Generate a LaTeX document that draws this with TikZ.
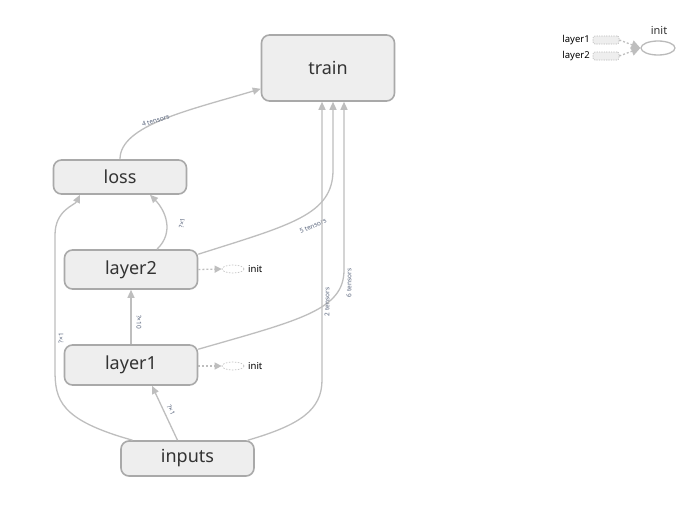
\documentclass[tikz,border=0pt]{standalone}
\usepackage{fontspec}
\setmainfont{Noto Sans}
\usetikzlibrary{arrows.meta,shapes.geometric}
\definecolor{nfill}{HTML}{EEEEEE}
\definecolor{nborder}{HTML}{A9A9A9}
\definecolor{edgec}{HTML}{BEBEBE}
\definecolor{txt}{HTML}{333333}
\definecolor{lbl}{HTML}{56627A}
\begin{document}
\begin{tikzpicture}[x=1pt,y=-1pt,
 op/.style={draw=nborder, fill=nfill, line width=1.6pt, rounded corners=8pt, minimum width=133pt, inner sep=0pt, font=\fontsize{18}{18}\selectfont, text=txt},
 flow/.style={draw=edgec, line width=1.3pt, -{Triangle[length=8pt,width=7pt]}},
 elabel/.style={font=\fontsize{6.5}{7}\selectfont, text=lbl, inner sep=0pt},
 dflow/.style={draw=edgec, line width=1.3pt, dash pattern=on 2pt off 2pt, -{Triangle[length=7pt,width=7pt]}},
 ini/.style={ellipse, draw=nborder!70, dash pattern=on 1.5pt off 1.5pt, minimum width=22pt, minimum height=8pt, inner sep=0pt, line width=0.7pt},
 small/.style={font=\fontsize{9.5}{10}\selectfont, text=black, inner sep=0pt},
 srect/.style={draw=nborder!80, fill=nfill, dash pattern=on 1.2pt off 1.2pt, rounded corners=2pt, minimum width=26pt, minimum height=8pt, inner sep=0pt, line width=0.6pt},
]
\useasboundingbox (0,0) rectangle (693,504);
\fill[white] (0,0) rectangle (693,504);

% nodes
\node[op, minimum height=66pt] (train) at (328,68) {train};
\node[op, minimum height=34pt] (loss) at (120,177) {loss};
\node[op, minimum height=39pt] (layer2) at (131,269.5) {layer2};
\node[op, minimum height=40pt] (layer1) at (131,365) {layer1};
\node[op, minimum height=35pt] (inputs) at (187.5,458.5) {inputs};

% init nodes beside layers
\node[ini] (init2) at (233,269) {};
\node[small, anchor=west] (init2l) at (248,269) {init};
\node[ini] (init1) at (233,366) {};
\node[small, anchor=west] (init1l) at (248,366) {init};
\draw[dflow] (layer2.east) -- (init2.west);
\draw[dflow] ([yshift=-1pt]layer1.east) -- (init1.west);

% legend top right
\node[ellipse, draw=nborder!80, line width=1.3pt, minimum width=34pt, minimum height=14pt, inner sep=0pt] (initbig) at (658,48) {};
\node[small, font=\fontsize{11}{12}\selectfont, text=txt] (initbigl) at (659,30) {init};
\node[srect] (r1) at (606,40) {};
\node[srect] (r2) at (606,56) {};
\node[small, anchor=east] (l1) at (590,40) {layer1};
\node[small, anchor=east] (l2) at (590,56) {layer2};
\draw[dflow, -{Triangle[length=9pt,width=9pt]}] (r1.east) -- (initbig.west);
\draw[dflow, -{Triangle[length=9pt,width=9pt]}] (r2.east) -- (initbig.west);

% edges
\draw[flow] (loss.north) .. controls (120,125) and (190,110) .. ([yshift=13pt]train.south west)
  node[elabel, pos=0.45, above, rotate=17, yshift=-1pt] (lab4) {4 tensors};

\draw[flow] ([xshift=26pt]layer2.north) .. controls (175,232) and (165,210) .. ([xshift=30pt]loss.south);
\node[elabel, rotate=80] (lab21) at (182,223) {?×1};

\draw[flow] ([yshift=-5pt]layer2.north east) .. controls (290,225) and (333,215) .. (333,170) -- ([xshift=5pt]train.south);
\node[elabel, rotate=23] (lab5) at (313,226) {5 tensors};

\draw[flow] (layer1.north) -- (layer2.south);
\node[elabel, rotate=-90] (lab10) at (139,322) {?×10};

\draw[flow] ([yshift=-5pt]layer1.north east) .. controls (300,320) and (344,310) .. (344,270) -- ([xshift=16pt]train.south);
\node[elabel, rotate=90] (lab6) at (349,283) {6 tensors};

\draw[flow] ([xshift=-10pt]inputs.north) -- ([xshift=21pt]layer1.south);
\node[elabel, rotate=-65] (lab1) at (171,410) {?×1};

\draw[flow] ([xshift=-55pt]inputs.north) .. controls (60,420) and (55,400) .. (55,370) -- (55,235) .. controls (55,210) and (75,205) .. ([xshift=-40pt]loss.south);
\node[elabel, rotate=90] (lab11) at (61,338) {?×1};

\draw[flow] ([xshift=-7pt]inputs.north east) .. controls (300,425) and (322,410) .. (322,380) -- ([xshift=-6pt]train.south);
\node[elabel, rotate=90] (lab2) at (327,302) {2 tensors};
\end{tikzpicture}
\end{document}
